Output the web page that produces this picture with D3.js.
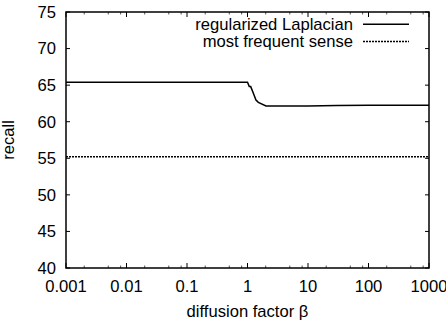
<!DOCTYPE html>
<html lang="en">
<head>
<meta charset="utf-8">
<title>recall vs diffusion factor</title>
<script src="https://cdn.jsdelivr.net/npm/d3@7"></script>
<style>
    body { margin: 0; background: #fff; }
    text { font-family: "Liberation Sans", Arial, sans-serif; font-size: 16.6px; fill: #000; }
</style>
</head>
<body>
<script>
// data
var beta   = [0.001, 1, 1.07, 1.13, 1.25, 1.38, 1.51, 2.02, 10, 30, 100, 1000];
var recall = [65.4, 65.4, 64.8, 64.8, 63.9, 62.97, 62.65, 62.15, 62.15, 62.22, 62.24, 62.24];
var baseline = 55.2;   // most frequent sense
var xTicks = [0.001, 0.01, 0.1, 1, 10, 100, 1000];
var xTickLabels = ["0.001", "0.01", "0.1", "1", "10", "100", "1000"];
var yTicks = [40, 45, 50, 55, 60, 65, 70, 75];
var seriesNames = ["regularized Laplacian", "most frequent sense"];

var w = 446, h = 322;
var pl = 66, pr = 429, pt = 12, pb = 268;

var x = d3.scaleLog().domain([0.001, 1000]).range([pl, pr]);
var y = d3.scaleLinear().domain([40, 75]).range([pb, pt]);

var svg = d3.select("body").append("svg")
    .attr("width", w).attr("height", h);

// minor ticks (only 2, 5, 8 survive in the original)
var minor = [];
for (var e = -3; e < 3; e++) {
    [2, 5, 8].forEach(function(m) { minor.push(m * Math.pow(10, e)); });
}

var ticks = svg.append("g").attr("stroke", "#000").attr("stroke-width", 1);
// x major ticks bottom + top
ticks.selectAll("line.xb").data(xTicks).enter().append("line")
    .attr("x1", d => x(d)).attr("x2", d => x(d))
    .attr("y1", pb).attr("y2", pb - 5);
ticks.selectAll("line.xt").data(xTicks).enter().append("line")
    .attr("x1", d => x(d)).attr("x2", d => x(d))
    .attr("y1", pt).attr("y2", pt + 5);
// x minor
ticks.selectAll("line.mb").data(minor).enter().append("line")
    .attr("x1", d => x(d)).attr("x2", d => x(d))
    .attr("y1", pb).attr("y2", pb - 2.5)
    .attr("stroke", "#555");
ticks.selectAll("line.mt").data(minor).enter().append("line")
    .attr("x1", d => x(d)).attr("x2", d => x(d))
    .attr("y1", pt).attr("y2", pt + 2.5)
    .attr("stroke", "#555");
// y ticks left + right
ticks.selectAll("line.yl").data(yTicks).enter().append("line")
    .attr("x1", pl).attr("x2", pl + 4)
    .attr("y1", d => y(d)).attr("y2", d => y(d));
ticks.selectAll("line.yr").data(yTicks).enter().append("line")
    .attr("x1", pr).attr("x2", pr - 4)
    .attr("y1", d => y(d)).attr("y2", d => y(d));

// frame
svg.append("rect")
    .attr("x", pl).attr("y", pt)
    .attr("width", pr - pl).attr("height", pb - pt)
    .attr("fill", "none").attr("stroke", "#000").attr("stroke-width", 1.5);

// tick labels
svg.selectAll("text.yl").data(yTicks).enter().append("text")
    .attr("x", pl - 10).attr("y", d => y(d) + 5.8)
    .attr("text-anchor", "end")
    .text(d => d);
svg.selectAll("text.xl").data(xTicks).enter().append("text")
    .attr("x", d => x(d)).attr("y", 291.5)
    .attr("text-anchor", "middle")
    .text((d, i) => xTickLabels[i]);

// axis titles
svg.append("text")
    .attr("x", (pl + pr) / 2).attr("y", 317)
    .attr("text-anchor", "middle")
    .text("diffusion factor \u03b2");
svg.append("text")
    .attr("transform", "translate(14," + ((pt + pb) / 2) + ") rotate(-90)")
    .attr("text-anchor", "middle")
    .text("recall");

// series
var line = d3.line().x(d => x(d[0])).y(d => y(d[1]));
svg.append("path")
    .datum(beta.map((b, i) => [b, recall[i]]))
    .attr("d", line)
    .attr("fill", "none").attr("stroke", "#000").attr("stroke-width", 1.5);
svg.append("path")
    .datum([[0.001, baseline], [1000, baseline]])
    .attr("d", line)
    .attr("fill", "none").attr("stroke", "#000").attr("stroke-width", 1.5)
    .attr("stroke-dasharray", "2,1");

// legend
var legY = [24.3, 41.5];
var leg = svg.selectAll("g.leg").data(seriesNames).enter().append("g");
leg.append("text")
    .attr("x", 353).attr("y", (d, i) => legY[i] + 5.8)
    .attr("text-anchor", "end")
    .text(d => d);
leg.append("line")
    .attr("x1", 363).attr("x2", 409)
    .attr("y1", (d, i) => legY[i]).attr("y2", (d, i) => legY[i])
    .attr("stroke", "#000").attr("stroke-width", 1.5)
    .attr("stroke-dasharray", (d, i) => i == 1 ? "2,1" : null);
</script>
</body>
</html>
